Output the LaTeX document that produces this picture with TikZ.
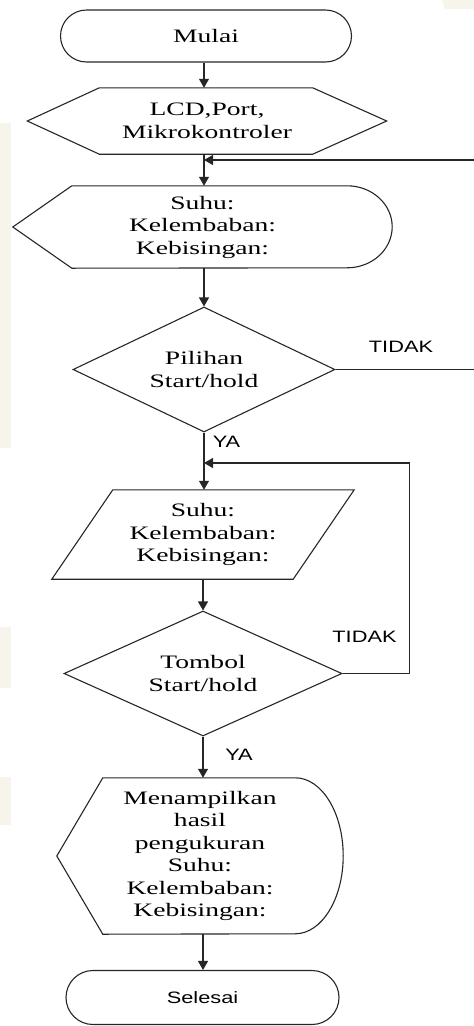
\documentclass[tikz,border=0pt]{standalone}
\usepackage{fontspec}
\usetikzlibrary{positioning,shapes.geometric,shapes.misc,arrows.meta}
\newfontfamily\flowserif[FakeStretch=1.45]{Liberation Serif}
\newfontfamily\flowsans[FakeStretch=1.32]{Liberation Sans}
\definecolor{scanbg}{RGB}{246,244,235}
\tikzset{
  flow/.style={draw=black!85, line width=1.1pt},
  txt/.style={align=center, inner sep=0pt, font={\flowserif\fontsize{19}{22.5}\selectfont}},
  lbl/.style={inner sep=0pt, font={\flowsans\fontsize{16.5}{18}\selectfont}},
  arr/.style={flow, -{Triangle[width=10pt,length=9pt]}},
}

\begin{document}
\begin{tikzpicture}[x=1pt,y=1pt]
  \useasboundingbox (0,0) rectangle (474,-1026);
  \clip (0,0) rectangle (474,-1026);

  % faint marks of the scan
  \fill[scanbg] (0,-123) rectangle (11,-448);
  \fill[scanbg] (0,-627) rectangle (11,-688);
  \fill[scanbg] (0,-777) rectangle (11,-825);
  \fill[scanbg] (442,0) -- (474,0) -- (474,-9) -- (445,-9) -- cycle;

  \node[flow, txt, rounded rectangle, minimum width=291pt, minimum height=52pt] (mulai) at (206,-36) {Mulai};

  \node[txt, minimum width=359pt, minimum height=66pt] (init) at (207,-121) {LCD,Port,\\Mikrokontroler};
  \draw[flow] (init.west) -- ([xshift=72pt]init.north west) -- ([xshift=-74pt]init.north east) -- (init.east)
    -- ([xshift=-74pt]init.south east) -- ([xshift=72pt]init.south west) -- cycle;

  \node[txt, minimum width=379pt, minimum height=82pt] (suhu) at (202.5,-227) {Suhu:\\Kelembaban:\\Kebisingan:};
  \draw[flow] (suhu.west) -- ([xshift=59pt]suhu.north west) -- ([xshift=-45pt]suhu.north east)
    arc[start angle=90, end angle=-90, x radius=45pt, y radius=41pt] -- ([xshift=59pt]suhu.south west) -- cycle;

  \node[flow, txt, diamond, aspect=2.1, minimum width=262pt, minimum height=125pt] (pil) at (204,-369.5) {Pilihan\\Start/hold};

  \node[txt, minimum width=302pt, minimum height=89pt] (baca) at (203,-534.5) {Suhu:\\Kelembaban:\\Kebisingan:};
  \draw[flow] (baca.south west) -- ([xshift=61pt]baca.north west) -- (baca.north east) -- ([xshift=-61pt]baca.south east) -- cycle;

  \node[flow, txt, diamond, aspect=2.22, minimum width=278pt, minimum height=125pt] (tomb) at (203,-673.5) {Tombol\\Start/hold};

  \node[txt, minimum width=286pt, minimum height=156pt] (hasil) at (200,-856) {Menampilkan\\hasil\\pengukuran\\Suhu:\\Kelembaban:\\Kebisingan:};
  \draw[flow] (hasil.west) -- ([xshift=46pt]hasil.north west) -- ([xshift=-48pt]hasil.north east)
    arc[start angle=90, end angle=-90, x radius=48pt, y radius=78pt] -- ([xshift=46pt]hasil.south west) -- cycle;

  \node[flow, lbl, rounded rectangle, minimum width=273pt, minimum height=54pt] (selesai) at (202.5,-997.5) {Selesai};

  \coordinate (j1) at (204,-160);
  \coordinate (j2) at (204,-463);

  \draw[arr] ([xshift=-2pt]mulai.south) -- ([xshift=-2pt]mulai.south |- init.north);
  \draw[arr] ([xshift=-3pt]init.south) -- ([xshift=-3pt]init.south |- suhu.north);
  \draw[arr] ([xshift=1.5pt]suhu.south) -- ([xshift=1.5pt]suhu.south |- pil.north);
  \draw[arr] (pil.south) -- (pil.south |- baca.north);
  \draw[arr] (baca.south) -- (baca.south |- tomb.north);
  \draw[arr] (tomb.south) -- (tomb.south |- hasil.north);
  \draw[arr] ([xshift=3pt]hasil.south) -- ([xshift=3pt]hasil.south |- selesai.north);

  \draw[arr] (pil.east) -- ++(160,0) |- (j1);
  \draw[arr] (tomb.east) -- ++(67,0) |- (j2);

  \node[lbl] (tidak1) at (401,-347) {TIDAK};
  \node[lbl] (tidak2) at (364.5,-637) {TIDAK};
  \node[lbl] (ya1) at (226.5,-442) {YA};
  \node[lbl] (ya2) at (239,-755) {YA};
\end{tikzpicture}
\end{document}
